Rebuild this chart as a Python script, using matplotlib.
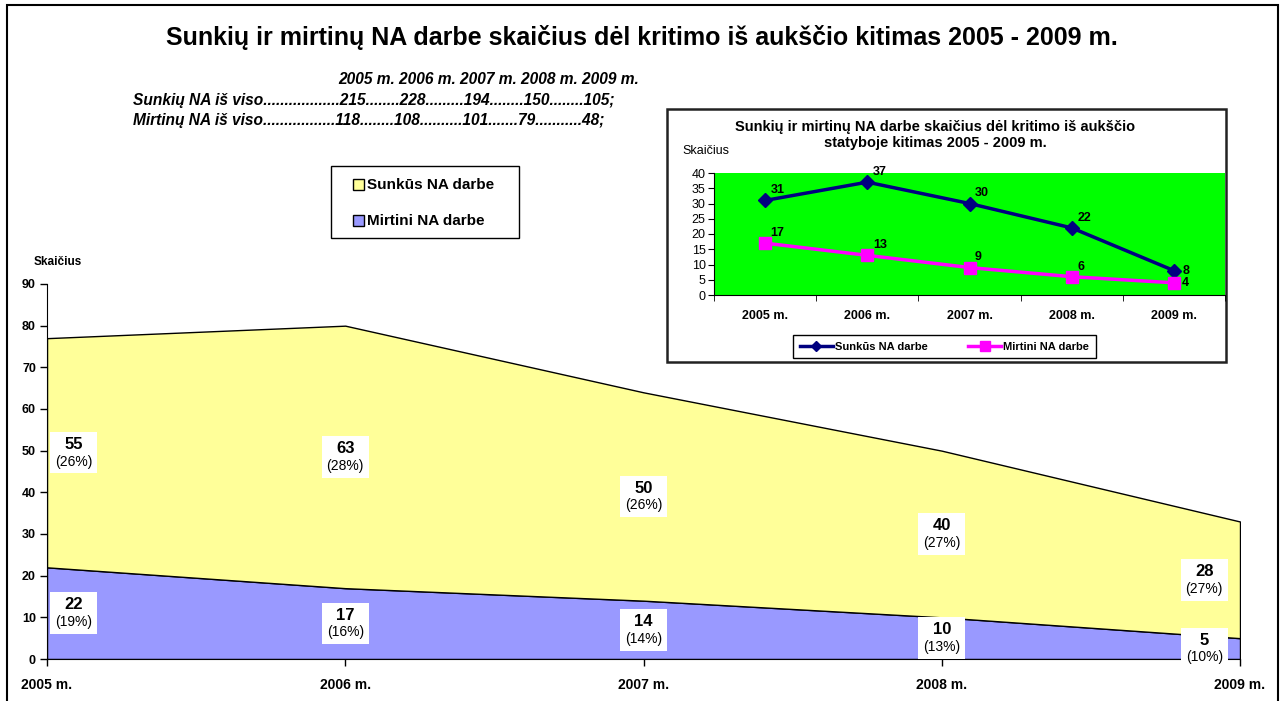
import numpy as np
import matplotlib.pyplot as plt
from matplotlib.patches import Rectangle
from matplotlib.offsetbox import TextArea, VPacker, AnnotationBbox

plt.rcParams['font.family'] = ['Liberation Sans', 'DejaVu Sans']

# duomenys
metai = ['2005 m.', '2006 m.', '2007 m.', '2008 m.', '2009 m.']
sunkus = [55, 63, 50, 40, 28]
mirtini = [22, 17, 14, 10, 5]
sunkus_viso = [215, 228, 194, 150, 105]
mirtini_viso = [118, 108, 101, 79, 48]
# statyba (mazas grafikas)
stat_sunkus = [31, 37, 30, 22, 8]
stat_mirtini = [17, 13, 9, 6, 4]

W, H = 1283, 701
fig = plt.figure(figsize=(W / 100, H / 100), dpi=100)


def fx(px):
    return px / W


def fy(py):
    return 1 - py / H


# remelis aplink visa paveiksla
fig.add_artist(Rectangle((fx(7), -0.01), fx(1278) - fx(7), fy(5) + 0.01,
                         transform=fig.transFigure, fill=False, ec='black', lw=1.5))

fig.text(0.5, fy(37), 'Sunkių ir mirtinų NA darbe skaičius dėl kritimo iš aukščio kitimas 2005 - 2009 m.',
         ha='center', va='center', fontsize=18, fontweight='bold')

# teksto blokas
eil1 = ' '.join(metai)
eil2 = ('Sunkių NA iš viso..................' + str(sunkus_viso[0]) + '........' + str(sunkus_viso[1])
        + '.........' + str(sunkus_viso[2]) + '........' + str(sunkus_viso[3]) + '........'
        + str(sunkus_viso[4]) + ';')
eil3 = ('Mirtinų NA iš viso.................' + str(mirtini_viso[0]) + '........' + str(mirtini_viso[1])
        + '..........' + str(mirtini_viso[2]) + '.......' + str(mirtini_viso[3]) + '...........'
        + str(mirtini_viso[4]) + ';')
tb = dict(fontsize=11.2, fontweight='bold', fontstyle='italic', va='center', ha='left')
fig.text(fx(338), fy(80), eil1, **tb)
fig.text(fx(133), fy(100), eil2, **tb)
fig.text(fx(133), fy(120), eil3, **tb)

# pagrindinis grafikas
ax = fig.add_axes([fx(47), fy(659), fx(1240) - fx(47), fy(284) - fy(659)])
x = np.arange(len(metai))
ax.stackplot(x, mirtini, sunkus, colors=['#9999ff', '#ffff99'], edgecolor='black', linewidth=1)
ax.set_xlim(0, 4)
ax.set_ylim(0, 90)
ax.set_yticks(range(0, 91, 10))
ax.set_xticks(x)
ax.set_xticklabels(metai, fontweight='bold', fontsize=10)
for t in ax.get_yticklabels():
    t.set_fontweight('bold')
    t.set_fontsize(9)
ax.spines[['top', 'right']].set_visible(False)
ax.tick_params(axis='y', length=5, width=1, pad=3)
ax.tick_params(axis='x', length=5, width=1, pad=9)
fig.text(fx(58), fy(262), 'Skaičius', ha='center', va='center', fontsize=8.5, fontweight='bold')

# reiksmiu etiketes
lab_x = [0.09, 1, 2, 3, 3.88]
for i in range(len(metai)):
    for val, viso, mid in [(sunkus[i], sunkus_viso[i], mirtini[i] + sunkus[i] / 2),
                           (mirtini[i], mirtini_viso[i], mirtini[i] / 2)]:
        box = VPacker(children=[TextArea(str(val), textprops=dict(fontweight='bold', fontsize=12)),
                                TextArea('(%d%%)' % round(100 * val / viso), textprops=dict(fontsize=10))],
                      align='center', pad=0, sep=2)
        ab = AnnotationBbox(box, (lab_x[i], mid), frameon=True, pad=0.35,
                            bboxprops=dict(fc='white', ec='none'))
        ax.add_artist(ab)

# legenda
fig.add_artist(Rectangle((fx(331), fy(238)), fx(519) - fx(331), fy(166) - fy(238),
                         transform=fig.transFigure, fc='white', ec='black', lw=1))
for yy, col, txt in [(185, '#ffff99', 'Sunkūs NA darbe'), (221, '#9999ff', 'Mirtini NA darbe')]:
    fig.add_artist(Rectangle((fx(353), fy(yy + 5)), fx(11), 11 / H,
                             transform=fig.transFigure, fc=col, ec='black', lw=1))
    fig.text(fx(367), fy(yy), txt, ha='left', va='center', fontsize=11, fontweight='bold')

# mazas grafikas
fig.add_artist(Rectangle((fx(667), fy(362)), fx(1226) - fx(667), fy(109) - fy(362),
                         transform=fig.transFigure, fc='white', ec='#222222', lw=1.8, zorder=1))
ins = fig.add_axes([fx(714), fy(295), fx(1225) - fx(714), fy(173) - fy(295)], zorder=2)
ins.set_facecolor('#00ff00')
l1, = ins.plot(x, stat_sunkus, color='#000080', lw=2.5, marker='D', ms=7, label='Sunkūs NA darbe')
l2, = ins.plot(x, stat_mirtini, color='#ff00ff', lw=2.5, marker='s', ms=8.5, label='Mirtini NA darbe')
ins.set_xlim(-0.5, 4.5)
ins.set_ylim(0, 40)
ins.set_yticks(range(0, 41, 5))
ins.set_xticks(x)
ins.set_xticklabels(metai, fontweight='bold', fontsize=9)
ins.set_xticks(np.arange(-0.5, 5, 1), minor=True)
ins.tick_params(axis='x', which='major', length=0, pad=11)
ins.tick_params(axis='x', which='minor', length=4)
ins.tick_params(axis='y', length=4, pad=2, labelsize=9)
ins.spines[['top', 'right']].set_visible(False)
for i in range(len(metai)):
    if i < 4:
        off, ha, va = (4, 3), 'left', 'bottom'
    else:
        off, ha, va = (6, 0), 'left', 'center'
    ins.annotate(str(stat_sunkus[i]), (x[i], stat_sunkus[i]), xytext=off, textcoords='offset points',
                 ha=ha, va=va, fontsize=9, fontweight='bold')
    ins.annotate(str(stat_mirtini[i]), (x[i], stat_mirtini[i]), xytext=off, textcoords='offset points',
                 ha=ha, va=va, fontsize=9, fontweight='bold')
fig.text(fx(935), fy(127), 'Sunkių ir mirtinų NA darbe skaičius dėl kritimo iš aukščio',
         ha='center', va='center', fontsize=10.5, fontweight='bold', zorder=3)
fig.text(fx(935), fy(143), 'statyboje kitimas 2005 - 2009 m.',
         ha='center', va='center', fontsize=10.5, fontweight='bold', zorder=3)
fig.text(fx(682), fy(151), 'Skaičius', ha='left', va='center', fontsize=9, zorder=3)
leg = ins.legend(handles=[l1, l2], loc='center', bbox_to_anchor=(fx(944.5), fy(346.5)),
                 bbox_transform=fig.transFigure, ncol=2, prop=dict(weight='bold', size=8),
                 frameon=True, fancybox=False, edgecolor='black', framealpha=1,
                 handlelength=3, columnspacing=3.6, handletextpad=0.2, borderpad=0.6, markerscale=0.8)
leg.get_frame().set_linewidth(1)

fig.savefig('out.png', dpi=100)
